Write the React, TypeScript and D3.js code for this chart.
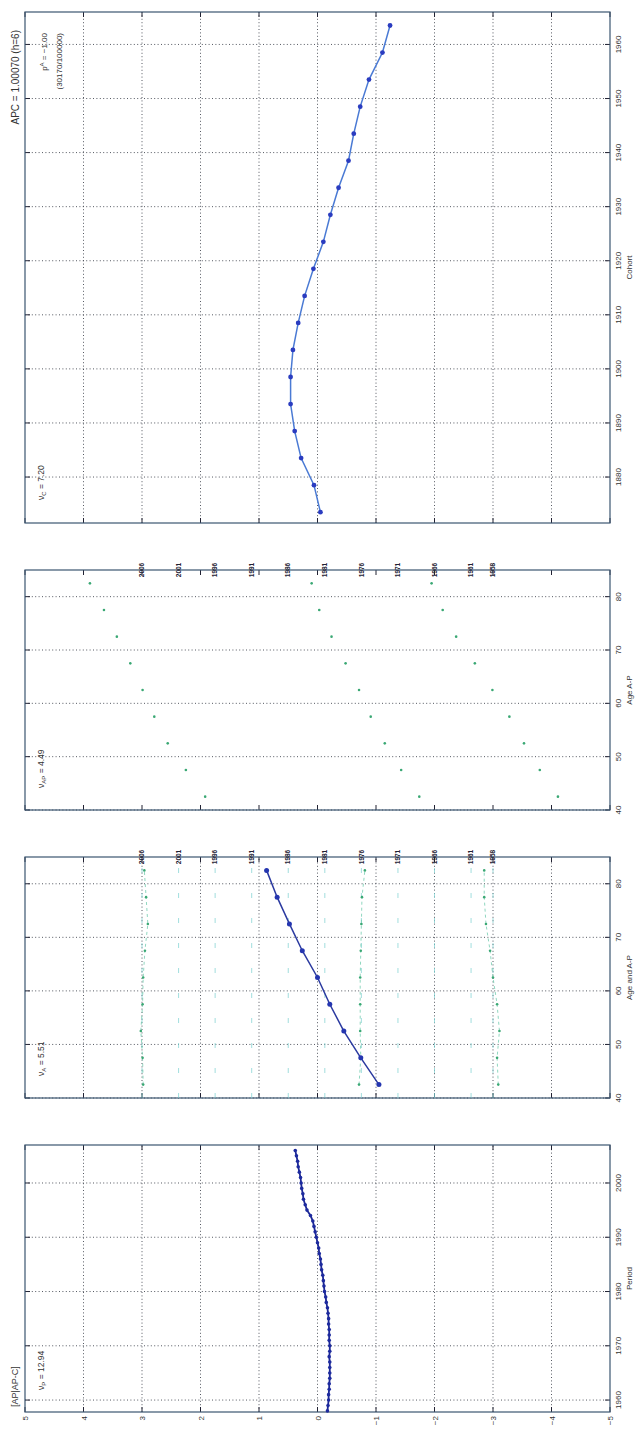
import React from 'react'
import * as d3 from 'd3'

// period effect, annual
const periodYears = [
  1958, 1959, 1960, 1961, 1962, 1963, 1964, 1965, 1966, 1967, 1968, 1969, 1970, 1971, 1972, 1973, 1974,
  1975, 1976, 1977, 1978, 1979, 1980, 1981, 1982, 1983, 1984, 1985, 1986, 1987, 1988, 1989, 1990, 1991,
  1992, 1993, 1994, 1995, 1996, 1997, 1998, 1999, 2000, 2001, 2002, 2003, 2004, 2005, 2006,
]
const periodEffect = [
  -0.17, -0.18, -0.19, -0.19, -0.2, -0.2, -0.21, -0.21, -0.21, -0.21, -0.2, -0.21, -0.21, -0.2, -0.2, -0.2,
  -0.19, -0.19, -0.18, -0.17, -0.15, -0.14, -0.12, -0.11, -0.1, -0.09, -0.07, -0.06, -0.05, -0.03, -0.02,
  0.0, 0.02, 0.04, 0.06, 0.08, 0.12, 0.18, 0.21, 0.24, 0.25, 0.27, 0.28, 0.29, 0.31, 0.33, 0.34, 0.36, 0.38,
]

// age effect, 5-year groups
const ages = [42.5, 47.5, 52.5, 57.5, 62.5, 67.5, 72.5, 77.5, 82.5]
const ageEffect = [-1.05, -0.74, -0.45, -0.21, 0.0, 0.26, 0.48, 0.69, 0.87]

// cohort effect
const cohorts = [
  1873.5, 1878.5, 1883.5, 1888.5, 1893.5, 1898.5, 1903.5, 1908.5, 1913.5, 1918.5, 1923.5, 1928.5, 1933.5,
  1938.5, 1943.5, 1948.5, 1953.5, 1958.5, 1963.5,
]
const cohortEffect = [
  -0.05, 0.06, 0.28, 0.39, 0.46, 0.46, 0.42, 0.33, 0.22, 0.07, -0.1, -0.22, -0.36, -0.53, -0.62, -0.73,
  -0.88, -1.11, -1.24,
]

// period labels and their offsets in the A-P panels
const periodLabels = ['2006', '2001', '1996', '1991', '1986', '1981', '1976', '1971', '1966', '1961', '1958']
const periodOffsets = [3.0, 2.375, 1.75, 1.125, 0.5, -0.125, -0.75, -1.375, -2.0, -2.625, -3.0]

// A-P traces (offset included), panel "Age and A-P"
const apTrace2006 = [2.98, 2.99, 3.02, 2.99, 2.98, 2.95, 2.9, 2.93, 2.96]
const apTrace1976 = [-0.71, -0.74, -0.73, -0.73, -0.73, -0.74, -0.75, -0.76, -0.81]
const apTrace1958 = [-3.09, -3.07, -3.11, -3.07, -3.0, -2.95, -2.88, -2.85, -2.85]

// panel "Age A-P"
const apAge2006 = [1.92, 2.25, 2.56, 2.79, 2.99, 3.2, 3.43, 3.65, 3.89]
const apAge1976 = [-1.74, -1.43, -1.15, -0.91, -0.71, -0.48, -0.24, -0.03, 0.1]
const apAge1958 = [-4.11, -3.8, -3.53, -3.28, -2.99, -2.69, -2.37, -2.14, -1.95]

const yTickValues = [-5, -4, -3, -2, -1, 0, 1, 2, 3, 4, 5]

const W = 1447
const H = 636
const yTop = 25
const yBot = 610
const font = '"Liberation Sans", Arial, sans-serif'

const y = d3.scaleLinear().domain([-5, 5]).range([yBot, yTop])

const panels = [
  { key: 'P', x0: 35, x1: 302, domain: [1957.8, 2007], ticks: [1960, 1970, 1980, 1990, 2000], label: 'Period', yGrid: true },
  { key: 'A', x0: 349, x1: 590, domain: [40, 85], ticks: [40, 50, 60, 70, 80], label: 'Age and A-P', yGrid: true },
  { key: 'AP', x0: 637, x1: 877, domain: [40, 85], ticks: [40, 50, 60, 70, 80], label: 'Age A-P', yGrid: false },
  { key: 'C', x0: 924, x1: 1435, domain: [1871.5, 1966], ticks: [1880, 1890, 1900, 1910, 1920, 1930, 1940, 1950, 1960], label: 'Cohort', yGrid: true },
]

const Frame = ({ p, x }) => {
  const gridY = yTickValues.filter((v) => v > -5 && v < 5)
  return (
    <g>
      {p.ticks.map((t) => (
        <line key={'gx' + t} x1={x(t)} x2={x(t)} y1={yTop} y2={yBot} stroke="#2a2f3a" strokeWidth={0.8} strokeDasharray="1 2.4" />
      ))}
      {p.yGrid &&
        gridY.map((v) => (
          <line key={'gy' + v} x1={p.x0} x2={p.x1} y1={y(v)} y2={y(v)} stroke="#2a2f3a" strokeWidth={0.8} strokeDasharray="1 2.4" />
        ))}
      {p.ticks.map((t) => (
        <g key={'t' + t}>
          <line x1={x(t)} x2={x(t)} y1={yBot} y2={yBot - 5} stroke="#223" strokeWidth={1} />
          <line x1={x(t)} x2={x(t)} y1={yTop} y2={yTop + 5} stroke="#223" strokeWidth={1} />
          <text x={x(t)} y={621} fontSize={8} textAnchor="middle" fill="#333" fontFamily={font}>
            {t}
          </text>
        </g>
      ))}
      {yTickValues.map((v) => (
        <g key={'yt' + v}>
          <line x1={p.x0} x2={p.x0 + 5} y1={y(v)} y2={y(v)} stroke="#223" strokeWidth={1} />
          <line x1={p.x1} x2={p.x1 - 5} y1={y(v)} y2={y(v)} stroke="#223" strokeWidth={1} />
        </g>
      ))}
      <rect x={p.x0} y={yTop} width={p.x1 - p.x0} height={yBot - yTop} fill="none" stroke="#3b5570" strokeWidth={1.2} />
      <text x={(p.x0 + p.x1) / 2} y={632} fontSize={8} textAnchor="middle" fill="#333" fontFamily={font}>
        {p.label}
      </text>
    </g>
  )
}

const Nu = ({ x, sub, value }) => (
  <text x={x} y={44} fontSize={8.5} fill="#333" fontFamily={font}>
    {'ν'}
    <tspan fontSize={6} dy={2}>
      {sub}
    </tspan>
    <tspan dy={-2}>{' = ' + value}</tspan>
  </text>
)

export default function App() {
  const xs = panels.map((p) => d3.scaleLinear().domain(p.domain).range([p.x0, p.x1]))
  const [xP, xA, xAP, xC] = xs

  const pLine = d3.line().x((d, i) => xP(periodYears[i])).y((d) => y(d))
  const aLine = d3.line().x((d, i) => xA(ages[i])).y((d) => y(d))
  const aapLine = d3.line().x((d, i) => xA(ages[i])).y((d) => y(d))
  const cLine = d3.line().x((d, i) => xC(cohorts[i])).y((d) => y(d))

  const apTraces = [apTrace2006, apTrace1976, apTrace1958]
  const apAges = [apAge2006, apAge1976, apAge1958]

  return (
    <svg width={636} height={1447} style={{ position: 'absolute', left: 0, top: 0, background: '#fff' }}>
      <g transform={`translate(0,${W}) rotate(-90)`}>
        <rect x={0} y={0} width={W} height={H} fill="#fff" />
        {panels.map((p, i) => (
          <Frame key={p.key} p={p} x={xs[i]} />
        ))}

        {/* y tick labels, first panel only */}
        {yTickValues.map((v) => (
          <text key={v} x={31} y={y(v) + 3} fontSize={8} textAnchor="end" fill="#333" fontFamily={font}>
            {v < 0 ? '−' + Math.abs(v) : v}
          </text>
        ))}

        {/* Period */}
        <path d={pLine(periodEffect)} fill="none" stroke="#1c2794" strokeWidth={1.8} />
        {periodEffect.map((v, i) => (
          <circle key={i} cx={xP(periodYears[i])} cy={y(v)} r={1.8} fill="#1d2a9e" />
        ))}
        <text x={40} y={18} fontSize={9} fill="#333" fontFamily={font}>
          [AP|AP-C]
        </text>
        <Nu x={57} sub="P" value="12.94" />

        {/* Age and A-P */}
        {periodOffsets.map((o, i) => (
          <line key={i} x1={panels[1].x0} x2={panels[1].x1} y1={y(o)} y2={y(o)} stroke="#7fd3d3" strokeWidth={0.9} strokeDasharray="5 20" opacity={0.8} />
        ))}
        {apTraces.map((tr, k) => (
          <g key={k}>
            <path d={aapLine(tr)} fill="none" stroke="#74cdb0" strokeWidth={0.8} strokeDasharray="3 3" />
            {tr.map((v, i) => (
              <circle key={i} cx={xA(ages[i])} cy={y(v)} r={1.3} fill="#3aa874" />
            ))}
          </g>
        ))}
        <path d={aLine(ageEffect)} fill="none" stroke="#2b3aa0" strokeWidth={1.5} />
        {ageEffect.map((v, i) => (
          <circle key={i} cx={xA(ages[i])} cy={y(v)} r={2.5} fill="#2536b0" />
        ))}
        {periodLabels.map((l, i) => (
          <text key={l} x={panels[1].x1} y={y(periodOffsets[i]) + 2.2} fontSize={6.5} fontWeight="bold" textAnchor="middle" fill="#223" fontFamily={font}>
            {l}
          </text>
        ))}
        <Nu x={371} sub="A" value="5.51" />

        {/* Age A-P */}
        {apAges.map((tr, k) => (
          <g key={k}>
            {tr.map((v, i) => (
              <circle key={i} cx={xAP(ages[i])} cy={y(v)} r={1.3} fill="#3aa874" />
            ))}
          </g>
        ))}
        {periodLabels.map((l, i) => (
          <text key={l} x={panels[2].x1} y={y(periodOffsets[i]) + 2.2} fontSize={6.5} fontWeight="bold" textAnchor="middle" fill="#223" fontFamily={font}>
            {l}
          </text>
        ))}
        <Nu x={659} sub="AP" value="4.49" />

        {/* Cohort */}
        <path d={cLine(cohortEffect)} fill="none" stroke="#4a7ad4" strokeWidth={1.5} />
        {cohortEffect.map((v, i) => (
          <circle key={i} cx={xC(cohorts[i])} cy={y(v)} r={2.4} fill="#2a3cc0" />
        ))}
        <Nu x={947} sub="C" value="7.20" />
        <text x={1417} y={19} fontSize={10} textAnchor="end" fill="#333" fontFamily={font}>
          APC = 1.00070 (h=6)
        </text>
        <text x={1414} y={47} fontSize={8} textAnchor="end" fill="#333" fontFamily={font}>
          p<tspan fontSize={6} dy={-3}>A</tspan>
          <tspan dy={3}> = −1.00</tspan>
        </text>
        <text x={1414} y={62} fontSize={8} textAnchor="end" fill="#333" fontFamily={font}>
          (30170/100000)
        </text>
      </g>
    </svg>
  )
}
